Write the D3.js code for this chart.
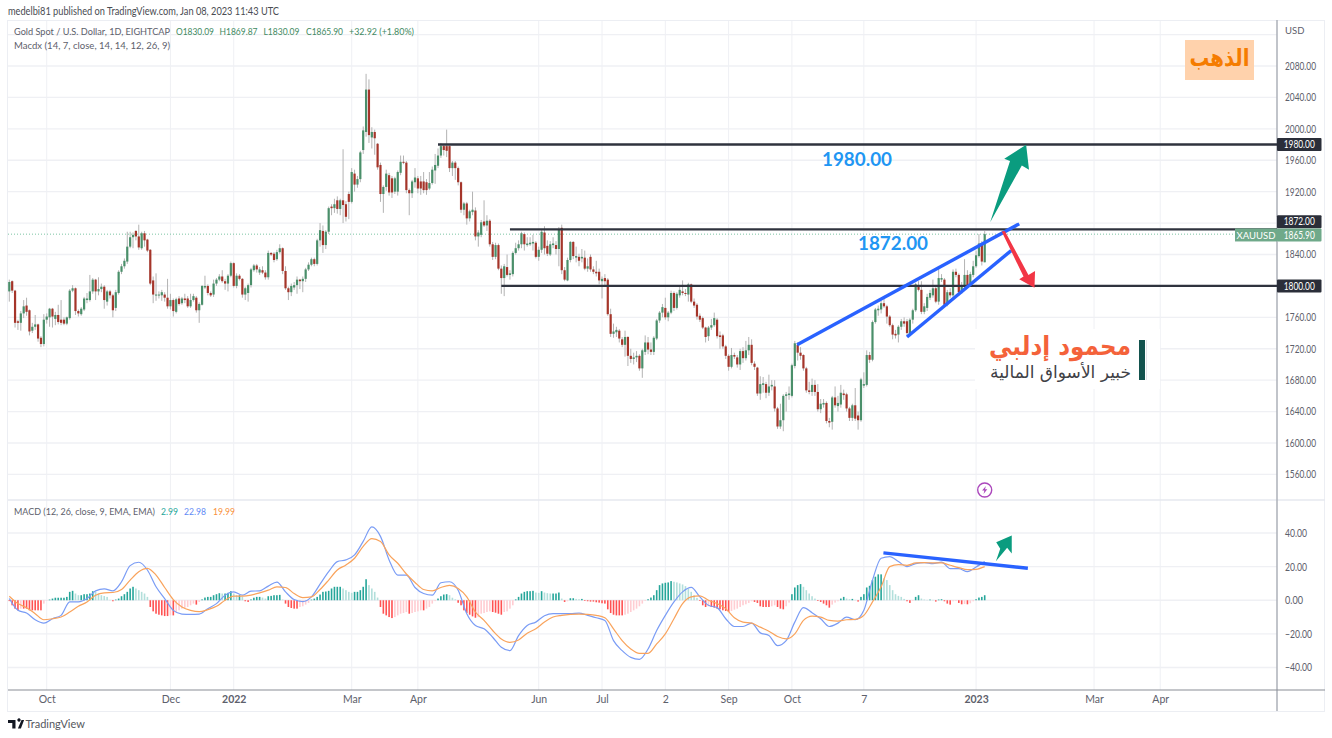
<!DOCTYPE html>
<html>
<head>
<meta charset="utf-8">
<script src="https://cdn.jsdelivr.net/npm/d3@7"></script>
<style>
  html, body { margin: 0; padding: 0; background: #fff; overflow: hidden; }
  svg { display: block; }
  text { font-family: Lato, sans-serif; }
  .axis path, .axis line { display: none; }
  .axis text { font-family: Lato, sans-serif; font-size: 10.5px; fill: #5d606b; }
</style>
</head>
<body>
<svg id="chart" width="1332" height="738"></svg>
<script>
// daily candles
const opens = [
  1793,1806,1794,1755,1753,1765,1775,1769,1743,1748,
  1751,1734,1726,1757,1760,1771,1758,1763,1757,1757,
  1752,1759,1794,1797,1768,1764,1770,1782,1782,1793,
  1808,1793,1796,1799,1780,1793,1788,1772,1791,1818,
  1825,1831,1850,1862,1870,1863,1848,1867,1859,1846,
  1807,1788,1788,1788,1789,1785,1774,1782,1767,1784,
  1778,1784,1784,1774,1782,1785,1769,1776,1798,1800,
  1791,1789,1803,1808,1812,1806,1803,1813,1829,1800,
  1813,1809,1789,1791,1801,1820,1826,1817,1820,1817,
  1811,1842,1841,1834,1843,1848,1819,1797,1792,1798,
  1801,1808,1806,1809,1821,1827,1834,1828,1858,1870,
  1852,1869,1901,1899,1909,1898,1909,1904,1917,1907,
  1943,1929,1936,1973,1996,2050,1989,1996,1981,1954,
  1917,1926,1941,1937,1920,1920,1944,1958,1957,1922,
  1918,1932,1937,1933,1933,1932,1924,1931,1947,1953,
  1966,1978,1978,1978,1950,1957,1950,1932,1897,1905,
  1886,1894,1896,1863,1865,1882,1877,1883,1853,1837,
  1852,1822,1810,1824,1814,1815,1842,1848,1853,1866,
  1852,1853,1854,1855,1837,1846,1868,1851,1840,1852,
  1852,1847,1874,1820,1807,1833,1856,1836,1837,1835,
  1836,1822,1837,1821,1818,1818,1806,1810,1808,1764,
  1739,1741,1743,1732,1725,1735,1711,1707,1709,1711,
  1695,1716,1728,1719,1716,1733,1756,1766,1772,1760,
  1766,1791,1772,1788,1793,1791,1789,1802,1780,1776,
  1762,1759,1747,1736,1747,1750,1757,1737,1737,1723,
  1711,1697,1712,1709,1700,1717,1708,1718,1725,1701,
  1696,1663,1674,1675,1664,1672,1672,1644,1621,1629,
  1660,1661,1660,1698,1725,1715,1712,1695,1667,1665,
  1674,1665,1643,1649,1651,1628,1627,1658,1647,1649,
  1663,1662,1644,1632,1648,1635,1629,1673,1674,1712,
  1706,1754,1769,1770,1778,1774,1761,1750,1739,1738,
  1748,1755,1755,1739,1757,1769,1801,1795,1767,1772,
  1785,1788,1797,1780,1808,1808,1776,1792,1788,1818,
  1814,1792,1799,1814,1803,1814,1825,1838,1854,1830.09
];
const closes = [
  1805,1794,1753,1753,1765,1774,1767,1742,1748,1751,
  1733,1726,1757,1761,1771,1761,1763,1754,1753,1752,
  1760,1794,1797,1768,1765,1771,1784,1784,1793,1808,
  1793,1796,1799,1782,1793,1788,1769,1792,1818,1825,
  1832,1850,1862,1865,1863,1849,1867,1858,1845,1803,
  1789,1789,1789,1792,1785,1774,1782,1768,1783,1777,
  1784,1782,1774,1782,1787,1769,1777,1800,1800,1791,
  1788,1803,1808,1812,1806,1803,1813,1829,1800,1813,
  1809,1789,1797,1801,1821,1826,1821,1821,1817,1811,
  1842,1840,1833,1843,1848,1819,1797,1792,1800,1801,
  1808,1806,1809,1821,1827,1834,1828,1858,1871,1852,
  1869,1899,1899,1904,1898,1909,1903,1888,1907,1945,
  1929,1936,1970,1998,2050,1992,1996,1988,1951,1917,
  1926,1943,1919,1919,1937,1945,1958,1957,1922,1918,
  1933,1938,1924,1924,1922,1922,1931,1948,1954,1966,
  1978,1973,1972,1950,1957,1950,1932,1897,1905,1886,
  1895,1897,1863,1868,1881,1877,1883,1853,1837,1852,
  1822,1810,1825,1814,1816,1842,1848,1853,1867,1853,
  1854,1855,1856,1837,1846,1869,1848,1841,1853,1854,
  1847,1872,1820,1808,1833,1856,1838,1838,1832,1837,
  1822,1825,1821,1818,1816,1807,1809,1806,1764,1739,
  1742,1744,1733,1725,1735,1711,1707,1709,1711,1695,
  1718,1728,1719,1716,1734,1756,1766,1773,1760,1766,
  1791,1772,1790,1795,1791,1790,1802,1780,1775,1761,
  1757,1747,1735,1747,1750,1759,1736,1735,1723,1711,
  1697,1712,1710,1700,1717,1708,1718,1725,1702,1697,
  1663,1675,1676,1664,1672,1674,1644,1621,1629,1660,
  1662,1663,1699,1727,1715,1711,1695,1667,1665,1674,
  1665,1643,1650,1651,1628,1626,1658,1648,1651,1664,
  1661,1644,1632,1648,1631,1629,1681,1675,1712,1706,
  1754,1770,1771,1778,1774,1761,1750,1738,1737,1748,
  1755,1752,1740,1757,1769,1802,1795,1767,1774,1786,
  1791,1797,1780,1810,1810,1776,1792,1788,1818,1814,
  1792,1801,1814,1801,1815,1825,1839,1854,1831,1865.9
];
const highs = [
  1808,1807,1795,1757,1768,1782,1785,1770,1753,1763,
  1752,1736,1764,1765,1772,1772,1767,1776,1782,1760,
  1761,1796,1801,1798,1770,1773,1786,1791,1814,1810,
  1809,1811,1803,1801,1795,1795,1790,1795,1820,1828,
  1835,1869,1869,1868,1871,1878,1869,1870,1860,1847,
  1812,1816,1793,1795,1792,1809,1790,1784,1785,1787,
  1786,1790,1787,1790,1790,1787,1779,1801,1813,1802,
  1793,1808,1810,1815,1820,1809,1815,1831,1830,1816,
  1815,1810,1799,1803,1823,1828,1828,1824,1825,1820,
  1845,1843,1843,1846,1853,1849,1825,1799,1803,1805,
  1812,1809,1812,1823,1830,1836,1836,1860,1880,1877,
  1871,1901,1904,1911,1914,1911,1974,1908,1920,1950,
  1948,1940,1972,2003,2070,2063,2002,1999,1982,1957,
  1928,1948,1944,1940,1939,1947,1966,1966,1959,1924,
  1935,1950,1940,1940,1945,1936,1945,1952,1968,1975,
  1982,1980,1999,1979,1959,1959,1952,1933,1907,1907,
  1897,1920,1900,1871,1884,1909,1890,1885,1856,1855,
  1854,1826,1828,1840,1820,1844,1855,1858,1869,1868,
  1862,1862,1865,1857,1850,1872,1876,1858,1857,1862,
  1857,1875,1878,1824,1836,1857,1857,1850,1841,1847,
  1845,1835,1840,1825,1832,1822,1812,1815,1810,1771,
  1752,1748,1745,1735,1743,1736,1720,1715,1717,1713,
  1720,1737,1735,1728,1736,1758,1768,1777,1785,1768,
  1794,1793,1792,1801,1807,1796,1804,1803,1784,1778,
  1765,1761,1748,1749,1758,1766,1759,1742,1739,1725,
  1713,1721,1715,1712,1720,1722,1730,1735,1732,1704,
  1697,1685,1684,1678,1687,1680,1680,1646,1650,1662,
  1665,1672,1701,1730,1728,1722,1713,1697,1678,1682,
  1680,1675,1656,1656,1653,1632,1660,1672,1660,1674,
  1668,1664,1646,1650,1670,1640,1683,1690,1718,1716,
  1756,1772,1775,1781,1785,1776,1763,1752,1744,1750,
  1758,1760,1758,1759,1771,1804,1806,1806,1778,1790,
  1795,1808,1799,1822,1815,1810,1795,1797,1821,1822,
  1816,1805,1834,1820,1818,1832,1845,1866,1857,1869.87
];
const lows = [
  1780,1791,1747,1744,1743,1759,1762,1737,1740,1744,
  1729,1722,1723,1752,1748,1747,1750,1751,1750,1750,
  1750,1757,1792,1763,1761,1762,1768,1778,1780,1790,
  1782,1788,1792,1771,1775,1784,1760,1768,1789,1815,
  1822,1828,1848,1848,1858,1846,1846,1850,1843,1801,
  1778,1781,1784,1781,1780,1771,1770,1761,1765,1775,
  1776,1778,1772,1772,1780,1766,1753,1775,1796,1788,
  1786,1786,1800,1806,1804,1795,1793,1811,1798,1797,
  1807,1785,1782,1780,1798,1818,1817,1814,1815,1808,
  1808,1838,1830,1832,1841,1815,1795,1782,1787,1795,
  1790,1796,1792,1805,1819,1825,1825,1826,1850,1842,
  1847,1866,1890,1893,1892,1890,1880,1882,1885,1905,
  1920,1925,1932,1968,1990,1982,1975,1967,1948,1907,
  1893,1921,1915,1912,1917,1915,1941,1955,1918,1890,
  1912,1925,1918,1916,1918,1916,1922,1929,1930,1950,
  1963,1966,1964,1945,1940,1935,1928,1893,1890,1878,
  1882,1890,1858,1850,1862,1875,1870,1850,1833,1834,
  1820,1790,1787,1812,1808,1812,1840,1845,1848,1845,
  1850,1851,1845,1835,1832,1842,1840,1838,1838,1848,
  1840,1825,1815,1806,1806,1830,1834,1830,1825,1830,
  1820,1818,1818,1815,1812,1802,1784,1800,1762,1735,
  1734,1735,1728,1722,1710,1698,1702,1700,1703,1692,
  1683,1712,1713,1712,1712,1731,1753,1760,1757,1755,
  1764,1768,1770,1785,1788,1787,1780,1778,1772,1757,
  1754,1745,1728,1730,1744,1748,1733,1720,1720,1707,
  1692,1695,1707,1696,1693,1702,1705,1712,1699,1693,
  1660,1655,1664,1657,1660,1667,1640,1618,1618,1615,
  1640,1655,1658,1695,1705,1706,1692,1664,1662,1660,
  1660,1640,1638,1645,1625,1620,1617,1645,1640,1645,
  1655,1640,1628,1628,1628,1617,1627,1670,1672,1702,
  1704,1752,1762,1765,1772,1752,1748,1732,1733,1728,
  1744,1748,1737,1736,1752,1767,1793,1764,1764,1768,
  1782,1785,1778,1776,1805,1773,1774,1785,1786,1811,
  1788,1790,1797,1798,1800,1811,1823,1836,1826,1830.09
];

// MACD pane: the two lines were read every 3rd bar, the histogram every bar
const lineBars = [
  0,3,6,9,12,15,18,21,24,27,30,33,36,39,42,45,48,51,54,57,
  60,63,66,69,72,75,78,81,84,87,90,93,96,99,102,105,108,111,114,117,
  120,123,126,129,132,135,138,141,144,147,150,153,156,159,162,165,168,171,174,177,
  180,183,186,189,192,195,198,201,204,207,210,213,216,219,222,225,228,231,234,237,
  240,243,246,249,252,255,258,261,264,267,270,273,276,279,282,285,288,291,294,297,
  300,303,306,309,312,315,318,321,324,327,330,333,336,339
];
const macdLine = [
  1,-6,-7.6,-11.6,-13.6,-11,-9,-1,-1,1,
  5.6,6.8,5.6,11,20.6,22.6,18,8,1,-6,
  -8.2,-8.4,-8.2,-5,-2,3,5,3,5.4,5.6,
  8.4,10.8,5,.4,-.8,2,9.6,17,23,24,
  27,35,43.6,38,24,15,15,7.6,4,3,
  10.4,11,6,-8,-15,-17,-22,-28,-30,-21,
  -15,-13,-9.2,-8,-8,-8,-7.6,-9,-10.4,-12,
  -24,-30,-34,-35.2,-29,-18,-9,-1,5,7.6,
  2,-3,-4.4,-11,-15.6,-15.6,-13.6,-19.4,-21,-27,
  -24,-13,-4.4,-7.4,-11,-15.6,-13.6,-10,-11.6,-6,
  12,25,26,23,20,21.8,22.4,21.8,22.7,18.8,
  18.8,17,19.8,22.98
];
const signalLine = [
  2.4,-2,-4.4,-8,-11.6,-11,-10,-7,-3.6,-1,
  3,4.4,4.6,6.4,12,17,19,15,7.6,.4,
  -4,-6,-6.8,-5.6,-3.6,0,2.4,2.4,3,4.4,
  6,8,7.6,4,1.6,2,6.4,12,18,21,
  25,32,36.6,35,27,22,15.6,10.6,6.4,5.6,
  7.6,8.8,7,2,-7,-12,-18,-23,-25,-23.6,
  -19.6,-17,-13,-10,-9,-8.4,-8.2,-8.4,-9,-10.4,
  -17,-24,-29,-31.6,-31.6,-26,-20,-11,-2,2,
  2.6,0,-2,-5,-10.4,-13,-13.6,-16,-18.4,-21.6,
  -23,-20,-12,-9.4,-10,-12,-12.4,-11.6,-11.4,-9,
  -1,8,20,21.2,20.8,22.2,22.4,22.2,22.2,20.8,
  19.4,18.2,18.4,19.99
];
const histogram = [
  -.5,-3,-5,-6,-5,-5,-5,-6,-6,-6,
  -6,-6,-2,-.3,.4,1,1.5,1.5,1.5,1.5,
  2,5,5.6,4,3,3,3.6,3.6,4,5.4,
  5,4,3,2.5,2,.2,-.6,.4,1,2.4,
  3.6,5,7,8,7,6,5,4,2,-4,
  -6.6,-8,-8.6,-9,-9.4,-9.4,-9,-9,-7,-6,
  -5,-4.6,-4,-3,-2,-2.6,-1,.5,1.6,2,
  2,3,3.6,4.2,4,4,4.4,5.4,4,3,
  3,2,-.6,-1,.5,1.5,2,2,1.6,1,
  2.4,2.6,3,3,3.2,.4,-2,-4,-4.6,-5,
  -5,-4,-3.6,-2.6,-1.6,.4,1,2,3.4,5,
  5.2,5.6,7,8,8,8,7,6,5,4.4,
  5,5,6,8,12.5,9,7,5,1.6,-4,
  -8,-9,-10,-10.6,-10,-9,-8,-7.6,-7,-8,
  -7.6,-7,-6.6,-6,-6,-5,-4,-2,-.5,1,
  2.4,3.4,3.6,3,1.5,.5,-1.5,-3,-6,-7.6,
  -8.6,-9.6,-10.4,-10,-8,-7.6,-7,-6.6,-7,-7.4,
  -8,-8.6,-7,-6.6,-5,-3,.5,2,4,5,
  5.4,5.4,5.6,4.6,4.4,5.4,4.6,4.2,4,4,
  4,4.6,1,-1,-.6,1.2,1.2,.8,.6,.8,
  -.4,-.6,-.8,-.8,-1.2,-1.4,-1.8,-2,-5.4,-7.6,
  -8.6,-9,-9,-9,-8.6,-8,-7,-6,-5,-3.6,
  -2,-.4,.6,1.6,3,6,9,10,10.4,10.6,
  11.4,11,10.6,10,9.4,8.4,7,5,3,1.4,
  -.4,-3,-4,-3.6,-4,-4.4,-5,-5.4,-6,-6.4,
  -7,-6.4,-5.6,-5,-4,-3,-2.4,-1.6,-.6,-1,
  -1.6,-3.6,-4,-4,-4,-3.6,-3,-4,-5,-5.4,
  -3.6,-1.4,3.6,7.6,9,9.6,8,6,4,2.4,
  1,-.4,-1,-2,-3,-4.4,-2.6,-1.4,-.6,1,
  2,1,.6,.8,.2,-.8,2,3.6,7.6,8.6,
  12,14,15.4,15.4,13,12,9,6,3.6,2.6,
  2,.8,-.6,-1.6,-.4,2,3,1,.4,.2,
  .4,.2,-.8,.4,.6,-.6,-2,-2.6,-.6,-.4,
  -1.6,-2.4,-2.2,-2.4,-1.8,-.6,.6,1.6,2,2.99
];

// axis ticks
const priceTicks = [2080,2040,2000,1960,1920,1840,1760,1720,1680,1640,1600,1560];
const priceGrid = [2120,2080,2040,2000,1960,1920,1880,1840,1800,1760,1720,1680,1640,1600,1560];
const macdTicks = [40,20,0,-20,-40];
const timeTickBars = [13,56,78,119,142,184,206,228,250,272,297,336,377,400];
const timeTickLabels = ['Oct','Dec','2022','Mar','Apr','Jun','Jul','2','Sep','Oct','7','2023','Mar','Apr'];

// drawings, as [bar, price] or [bar, macd value]
const levels = [
  { price: 1980, fromBar: 149 },
  { price: 1872, fromBar: 174 },
  { price: 1800, fromBar: 171 }
];
const wedgeTop = [[273.8,1725],[351,1879]];
const wedgeBottom = [[312,1735],[348.2,1845]];
const macdTrend = [[303.8,28.2],[354,19]];
const arrowUp = [[340.9,1881],[347.8,1959.2],[345.8,1961.8],[353.4,1979.6],[354.4,1947.8],[351.9,1953.3]];
const arrowDown = [[344.9,1869.2],[352.5,1811.9],[351,1808.5],[356.3,1797.8],[356.5,1819.1],[354.2,1814],[346,1870]];
const macdArrow = [[342.9,23.2],[344.4,30.7],[343,34.5],[348.4,38.5],[348.4,27.8],[346.8,31.3]];

const svg = d3.select('#chart');

const plotLeft = 8, plotRight = 1277, frameRight = 1325;
const paneTop = 20, paneSplit = 500, paneBottom = 690, frameBottom = 711;

const x = d3.scaleLinear().domain([0, opens.length - 1]).range([9.3, 984.7]);
const y = d3.scaleLinear().domain([1600, 2080]).range([443, 66]);
const yMacd = d3.scaleLinear().domain([-40, 40]).range([667.5, 533]);

const GRID = '#eff0f4';
const UP = '#4a8f6a', DOWN = '#a5352a', WICK = '#b3b3b3';
const LEVEL = '#2f333e', TREND = '#2962ff';
const MACD_COLORS = { riseUp: '#26a69a', fallUp: '#b2dfdb', fallDown: '#ff5252', riseDown: '#ffcdd2' };

// Grid
const gridG = svg.append('g').attr('stroke', GRID).attr('fill', 'none');
gridG.selectAll('.v').data(timeTickBars).join('line')
  .attr('x1', d => x(d)).attr('x2', d => x(d))
  .attr('y1', paneTop).attr('y2', paneBottom);
gridG.selectAll('.h').data(priceGrid).join('line')
  .attr('x1', plotLeft).attr('x2', plotRight)
  .attr('y1', d => y(d)).attr('y2', d => y(d)).attr('stroke-width', 1.3);
gridG.selectAll('.m').data(macdTicks).join('line')
  .attr('x1', plotLeft).attr('x2', plotRight)
  .attr('y1', d => yMacd(d)).attr('y2', d => yMacd(d)).attr('stroke-width', 1.3);

// Frame
svg.append('rect')
  .attr('x', plotLeft - 0.5).attr('y', paneTop + 0.5)
  .attr('width', frameRight - plotLeft).attr('height', frameBottom - paneTop)
  .attr('fill', 'none').attr('stroke', '#eceef3').attr('stroke-width', 1);
svg.append('line').attr('x1', plotLeft).attr('x2', frameRight).attr('y1', paneSplit).attr('y2', paneSplit)
  .attr('stroke', '#e6e8ef').attr('stroke-width', 1.5);
svg.append('line').attr('x1', plotRight).attr('x2', plotRight).attr('y1', paneTop).attr('y2', frameBottom)
  .attr('stroke', '#adb0b8').attr('stroke-width', 1.5);
svg.append('line').attr('x1', plotLeft).attr('x2', frameRight).attr('y1', paneBottom).attr('y2', paneBottom)
  .attr('stroke', '#8a8d96').attr('stroke-width', 1.2);

// Last price dotted line
svg.append('line')
  .attr('x1', plotLeft).attr('x2', 1235)
  .attr('y1', y(closes[closes.length - 1])).attr('y2', y(closes[closes.length - 1]))
  .attr('stroke', '#7cc4a3').attr('stroke-dasharray', '1 2');

// Candles
const bars = d3.range(opens.length);
svg.append('g').attr('stroke', WICK).selectAll('line').data(bars).join('line')
  .attr('x1', i => x(i)).attr('x2', i => x(i))
  .attr('y1', i => y(highs[i])).attr('y2', i => y(lows[i]));
svg.append('g').selectAll('rect').data(bars).join('rect')
  .attr('x', i => x(i) - 1.1)
  .attr('width', 2.2)
  .attr('y', i => y(Math.max(opens[i], closes[i])))
  .attr('height', i => Math.max(1, Math.abs(y(opens[i]) - y(closes[i]))))
  .attr('fill', i => closes[i] >= opens[i] ? UP : DOWN);

// Histogram
function histColor(i) {
  const v = histogram[i], prev = i > 0 ? histogram[i - 1] : 0;
  if (v >= 0) return v >= prev ? MACD_COLORS.riseUp : MACD_COLORS.fallUp;
  return v <= prev ? MACD_COLORS.fallDown : MACD_COLORS.riseDown;
}
svg.append('g').selectAll('rect').data(bars).join('rect')
  .attr('x', i => x(i) - 0.8)
  .attr('width', 1.6)
  .attr('y', i => Math.min(yMacd(0), yMacd(histogram[i])))
  .attr('height', i => Math.abs(yMacd(histogram[i]) - yMacd(0)))
  .attr('fill', histColor);

// MACD + signal lines
const macdPath = d3.line().x((d, i) => x(lineBars[i])).y(d => yMacd(d)).curve(d3.curveMonotoneX);
svg.append('path').attr('d', macdPath(macdLine)).attr('fill', 'none').attr('stroke', '#7a9cf5').attr('stroke-width', 1.2);
svg.append('path').attr('d', macdPath(signalLine)).attr('fill', 'none').attr('stroke', '#f9a35c').attr('stroke-width', 1.2);

// Horizontal levels
svg.append('g').selectAll('line').data(levels).join('line')
  .attr('x1', d => x(d.fromBar)).attr('x2', plotRight)
  .attr('y1', d => y(d.price)).attr('y2', d => y(d.price))
  .attr('stroke', LEVEL).attr('stroke-width', 2.4);

// Trend lines and arrows
const priceLine = d3.line().x(d => x(d[0])).y(d => y(d[1]));
const macdDraw = d3.line().x(d => x(d[0])).y(d => yMacd(d[1]));
[wedgeTop, wedgeBottom].forEach(seg => {
  svg.append('path').attr('d', priceLine(seg)).attr('stroke', TREND).attr('stroke-width', 3.4).attr('fill', 'none');
});
svg.append('path').attr('d', macdDraw(macdTrend)).attr('stroke', TREND).attr('stroke-width', 3.4).attr('fill', 'none');
svg.append('path').attr('d', priceLine(arrowUp) + 'Z').attr('fill', '#0a9c7f');
svg.append('path').attr('d', priceLine(arrowDown) + 'Z').attr('fill', '#f23645');
svg.append('path').attr('d', macdDraw(macdArrow) + 'Z').attr('fill', '#0a9c7f');

// Level captions
svg.append('text').attr('x', 857).attr('y', y(1980) + 21).attr('text-anchor', 'middle')
  .attr('font-size', 18).attr('font-weight', 700).attr('fill', '#2196f3').text('1980.00')
  .attr('textLength', 70).attr('lengthAdjust', 'spacingAndGlyphs');
svg.append('text').attr('x', 893).attr('y', y(1872) + 20.5).attr('text-anchor', 'middle')
  .attr('font-size', 18).attr('font-weight', 700).attr('fill', '#2196f3').text('1872.00')
  .attr('textLength', 70).attr('lengthAdjust', 'spacingAndGlyphs');

// Author block
svg.append('rect').attr('x', 975).attr('y', 329).attr('width', 185).attr('height', 60).attr('fill', '#fff');
svg.append('rect').attr('x', 1139).attr('y', 340).attr('width', 6).attr('height', 40).attr('fill', '#13534e');
svg.append('line').attr('x1', 1146.5).attr('x2', 1146.5).attr('y1', 340).attr('y2', 380).attr('stroke', '#e4e6ea');
svg.append('text').attr('x', 1131).attr('y', 355).attr('text-anchor', 'end')
  .attr('font-size', 26).attr('font-weight', 700).attr('fill', '#f4623a')
  .attr('textLength', 142).attr('lengthAdjust', 'spacingAndGlyphs')
  .style('font-family', '"DejaVu Sans", sans-serif').text('محمود إدلبي');
svg.append('text').attr('x', 1131).attr('y', 378).attr('text-anchor', 'end')
  .attr('font-size', 17).attr('fill', '#3f4146')
  .attr('textLength', 141).attr('lengthAdjust', 'spacingAndGlyphs')
  .style('font-family', '"DejaVu Sans", sans-serif').text('خبير الأسواق المالية');

// Gold label
svg.append('rect').attr('x', 1185).attr('y', 40).attr('width', 69).attr('height', 40).attr('fill', '#ffd2ac');
svg.append('text').attr('x', 1219.5).attr('y', 66).attr('text-anchor', 'middle')
  .attr('font-size', 24).attr('font-weight', 700).attr('fill', '#f57c00')
  .attr('textLength', 60).attr('lengthAdjust', 'spacingAndGlyphs')
  .style('font-family', '"DejaVu Serif", "DejaVu Sans", serif').text('الذهب');

// Lightning marker
const bolt = svg.append('g').attr('transform', `translate(${x(opens.length - 1)},490)`);
bolt.append('circle').attr('r', 7).attr('fill', '#fff').attr('stroke', '#ab47bc').attr('stroke-width', 1.4);
bolt.append('path').attr('d', 'M1.2,-4 L-2.6,0.6 L-0.3,0.6 L-1.2,4 L2.6,-0.8 L0.3,-0.8 Z').attr('fill', '#ab47bc');

// Axes
const priceAxis = svg.append('g').attr('class', 'axis').attr('transform', `translate(${plotRight},0)`)
  .call(d3.axisRight(y).tickValues(priceTicks).tickSize(0).tickPadding(8).tickFormat(d3.format('.2f')));
priceAxis.selectAll('text').attr('textLength', 31).attr('lengthAdjust', 'spacingAndGlyphs');
const macdAxis = svg.append('g').attr('class', 'axis').attr('transform', `translate(${plotRight},0)`)
  .call(d3.axisRight(yMacd).tickValues(macdTicks).tickSize(0).tickPadding(8).tickFormat(d3.format('.2f')));
macdAxis.selectAll('text').attr('textLength', d => d < 0 ? 27 : (d === 0 ? 18 : 22)).attr('lengthAdjust', 'spacingAndGlyphs');
const timeAxis = svg.append('g').attr('class', 'axis').attr('transform', `translate(0,${paneBottom})`)
  .call(d3.axisBottom(x).tickValues(timeTickBars).tickSize(0).tickPadding(6)
    .tickFormat((d, i) => timeTickLabels[i]));
timeAxis.selectAll('text')
  .attr('font-weight', (d, i) => timeTickLabels[i].startsWith('20') ? 700 : 400);
svg.append('text').attr('x', 1285).attr('y', 34).attr('font-size', 9.5).attr('fill', '#5d606b').text('USD');

// Price tags
function tag(cy, w, label, fill, color) {
  svg.append('rect').attr('x', plotRight + 44.5 - w).attr('y', cy - 6.5).attr('width', w).attr('height', 13).attr('fill', fill).attr('rx', 1);
  svg.append('text').attr('x', plotRight + 44.5 - w / 2).attr('y', cy + 3.6).attr('text-anchor', 'middle')
    .attr('font-size', 10.5).attr('font-weight', 400).attr('fill', color)
    .attr('textLength', 31).attr('lengthAdjust', 'spacingAndGlyphs').text(label);
}
tag(y(1980), 44.5, '1980.00', '#2a2e39', '#fff');
tag(y(1872) - 7.5, 44.5, '1872.00', '#2a2e39', '#fff');
tag(y(1800), 44.5, '1800.00', '#2a2e39', '#fff');
tag(y(1865.9) + 0.8, 44.5, '1865.90', '#6fa98a', '#fff');
svg.append('rect').attr('x', 1235).attr('y', y(1865.9) - 5.7).attr('width', 42).attr('height', 13).attr('fill', '#6fa98a');
svg.append('text').attr('x', 1256).attr('y', y(1865.9) + 4.4).attr('text-anchor', 'middle')
  .attr('font-size', 9.5).attr('fill', '#fff').text('XAUUSD');

// Header and legends
svg.append('text').attr('x', 8).attr('y', 15).attr('font-size', 10.6).attr('fill', '#4a4c52')
  .attr('textLength', 271).attr('lengthAdjust', 'spacingAndGlyphs')
  .text('medelbi81 published on TradingView.com, Jan 08, 2023 11:43 UTC');
svg.append('text').attr('x', 14).attr('y', 35).attr('font-size', 9.2).attr('fill', '#5d606b')
  .attr('textLength', 156).attr('lengthAdjust', 'spacingAndGlyphs')
  .text('Gold Spot / U.S. Dollar, 1D, EIGHTCAP');
[['O1830.09', 176, 38], ['H1869.87', 219.5, 38], ['L1830.09', 263.5, 36], ['C1865.90', 306, 37], ['+32.92 (+1.80%)', 349, 65]].forEach(([s, px, w]) => {
  svg.append('text').attr('x', px).attr('y', 35).attr('font-size', 9.2).attr('fill', '#3f8a62')
    .attr('textLength', w).attr('lengthAdjust', 'spacingAndGlyphs').text(s);
});
svg.append('text').attr('x', 14).attr('y', 48.5).attr('font-size', 9.2).attr('fill', '#5d606b')
  .attr('textLength', 156).attr('lengthAdjust', 'spacingAndGlyphs')
  .text('Macdx (14, 7, close, 14, 14, 12, 26, 9)');
svg.append('text').attr('x', 14).attr('y', 515).attr('font-size', 9.2).attr('fill', '#5d606b')
  .attr('textLength', 141).attr('lengthAdjust', 'spacingAndGlyphs')
  .text('MACD (12, 26, close, 9, EMA, EMA)');
[['2.99', 161, 17, '#26a69a'], ['22.98', 184, 22, '#5f8bf5'], ['19.99', 213, 22, '#f98f3c']].forEach(([s, px, w, c]) => {
  svg.append('text').attr('x', px).attr('y', 515).attr('font-size', 9.2).attr('fill', c)
    .attr('textLength', w).attr('lengthAdjust', 'spacingAndGlyphs').text(s);
});

// TradingView footer
svg.append('path').attr('d', 'M8,720 h7.5 v8.5 h-3.2 v-5.6 h-4.3 Z M19,721.7 a1.7,1.7 0 1 1 0.01,0 Z M21.5,720 h2.6 l-3.2,8.5 h-3 Z').attr('fill', '#131722');
svg.append('text').attr('x', 25.5).attr('y', 728).attr('font-size', 11).attr('fill', '#55575e').text('TradingView');
</script>
</body>
</html>
